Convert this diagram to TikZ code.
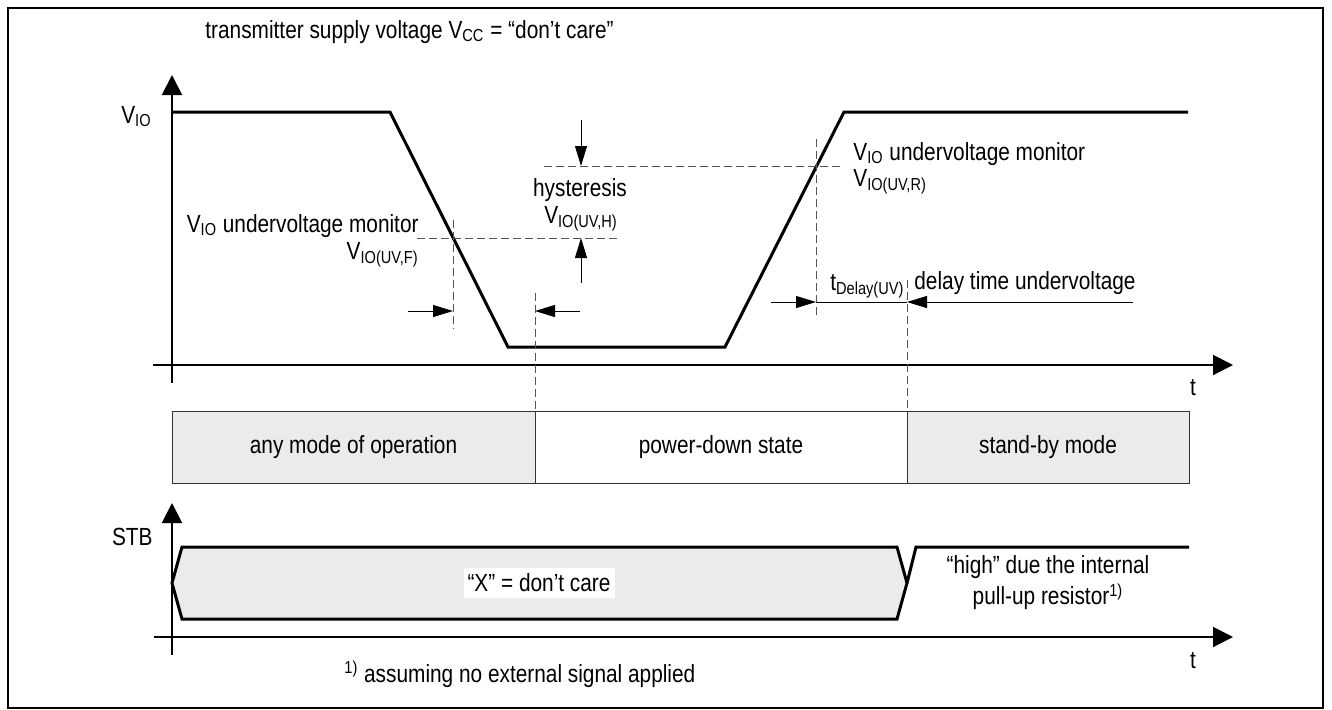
\documentclass[tikz,border=0pt]{standalone}
\usepackage{fontspec}
\setmainfont{Liberation Sans}[FakeStretch=0.84]
\usetikzlibrary{arrows.meta}

\definecolor{modegray}{RGB}{235,235,235}
\definecolor{guidegray}{RGB}{85,85,85}

\tikzset{
	taxis/.style={line width=1pt, -{Triangle[length=10pt, width=10pt]}},
	signal/.style={line width=1.5pt, line join=miter},
	guide/.style={guidegray, line width=0.5pt, dash pattern=on 4pt off 2pt},
	dimarrow/.style={line width=0.5pt, -{Triangle[length=10pt, width=6pt]}},
	modebox/.style={draw=black!80, line width=0.5pt},
	lbl/.style={inner sep=0pt},
}

\begin{document}
\begin{tikzpicture}[x=0.5pt, y=-0.5pt, font=\fontsize{12.4}{15.5}\selectfont]

	\useasboundingbox (0,0) rectangle (1332,709);
	\draw[line width=1pt] (8,8) rectangle (1323,708); % frame

	\node[lbl, anchor=base west] (vcc) at (205,38) {transmitter supply voltage V\textsubscript{CC} = “don’t care”};

	% ---- V_IO ----
	\coordinate (O1) at (172,365);
	\coordinate (y1top) at (172,75);
	\coordinate (y1bot) at (172,383);
	\coordinate (x1left) at (153,365);
	\coordinate (x1right) at (1233,365);

	% axes
	\draw[taxis] (y1bot) -- (y1top);
	\draw[taxis] (x1left) -- (x1right);
	\node[lbl, anchor=base east] (vio) at (152,123) {V\textsubscript{IO}};
	\node[lbl, anchor=base] (t1) at (1193,395) {t};

	% the curve
	\coordinate (a1) at (172,112);
	\coordinate (a2) at (390,112);
	\coordinate (a3) at (508,347);
	\coordinate (a4) at (725,347);
	\coordinate (a5) at (844,112);
	\coordinate (a6) at (1188,112);
	\draw[signal] (a1) -- (a2) -- (a3) -- (a4) -- (a5) -- (a6);

	% horizontal levels
	\coordinate (uvf1) at (417,238);
	\coordinate (uvf2) at (618,238);
	\coordinate (uvr1) at (544,166);
	\coordinate (uvr2) at (840,166);
	\draw[guide] (uvf1) -- (uvf2); % V_IO(UV,F)
	\draw[guide] (uvr1) -- (uvr2); % V_IO(UV,R)

	% vertical marks
	\coordinate (f1) at (453,220);
	\coordinate (f2) at (453,329);
	\coordinate (p1) at (535,293);
	\coordinate (p2) at (535,411);
	\coordinate (r1) at (816,139);
	\coordinate (r2) at (816,319);
	\coordinate (s1) at (907,280);
	\coordinate (s2) at (907,411);
	\draw[guide] (f1) -- (f2);
	\draw[guide] (p1) -- (p2);
	\draw[guide] (r1) -- (r2);
	\draw[guide] (s1) -- (s2);

	% hysteresis arrows
	\coordinate (h1) at (581,120);
	\coordinate (h2) at (581,283);
	\draw[dimarrow] (h1) -- (uvr1 -| h1);
	\draw[dimarrow] (h2) -- (uvf1 -| h2);

	% fall / power-down arrows
	\coordinate (d1) at (408,311);
	\coordinate (d2) at (580,311);
	\draw[dimarrow] (d1) -- (d1 -| f1);
	\draw[dimarrow] (d2) -- (d2 -| p1);

	% delay time
	\coordinate (e1) at (771,302);
	\coordinate (e2) at (1133,302);
	\draw[dimarrow] (e1) -- (e1 -| r1);
	\draw[line width=0.5pt] (e1 -| r1) -- (e1 -| s1);
	\draw[dimarrow] (e2) -- (e2 -| s1);

	% labels
	\node[lbl, anchor=base east] (monf) at (419,232) {V\textsubscript{IO} undervoltage monitor};
	\node[lbl, anchor=base east] (uvf) at (419,259) {V\textsubscript{IO(UV,F)}};
	\node[lbl, anchor=base] (hys) at (580,196) {hysteresis};
	\node[lbl, anchor=base] (uvh) at (581,223) {V\textsubscript{IO(UV,H)}};
	\node[lbl, anchor=base west] (monr) at (853,160) {V\textsubscript{IO} undervoltage monitor};
	\node[lbl, anchor=base west] (uvr) at (853,186) {V\textsubscript{IO(UV,R)}};
	\node[lbl, anchor=base west] (tdel) at (830,290) {t\textsubscript{Delay(UV)}};
	\node[lbl, anchor=base west] (del) at (914,289) {delay time undervoltage};

	% ---- modes ----
	\filldraw[modebox, fill=modegray] (172,411) rectangle (535,483);
	\draw[modebox] (p2) rectangle (907,483);
	\filldraw[modebox, fill=modegray] (s2) rectangle (1189,483);
	\node (any) at (353.5,447) {any mode of operation};
	\node (pd) at (721,447) {power-down state};
	\node (sb) at (1048,447) {stand-by mode};

	% ---- STB ----
	\coordinate (y2top) at (172,503);
	\coordinate (y2bot) at (172,655);
	\coordinate (x2left) at (154,637);
	\coordinate (x2right) at (1233,637);
	\draw[taxis] (y2bot) -- (y2top);
	\draw[taxis] (x2left) -- (x2right);
	\node[lbl, anchor=base east] (stb) at (153,545) {STB};
	\node[lbl, anchor=base] (t2) at (1193,668) {t};

	\coordinate (x0) at (172,583);
	\coordinate (xe) at (907,583);
	\filldraw[signal, fill=modegray] (x0) -- (182,547) -- (897,547) -- (xe) -- (897,619) -- (182,619) -- cycle;
	\draw[signal] (xe) -- (916,547) -- (1189,547);

	\node[fill=white, inner xsep=2pt, inner ysep=3pt] (dc) at (539,583) {“X” = don’t care};
	\node[align=center, inner sep=0pt] (high) at (1048,583) {“high” due the internal\\pull-up resistor\textsuperscript{1)}};

	\node[lbl, anchor=base west] (note) at (344,682) {\textsuperscript{1)} assuming no external signal applied};

\end{tikzpicture}
\end{document}
